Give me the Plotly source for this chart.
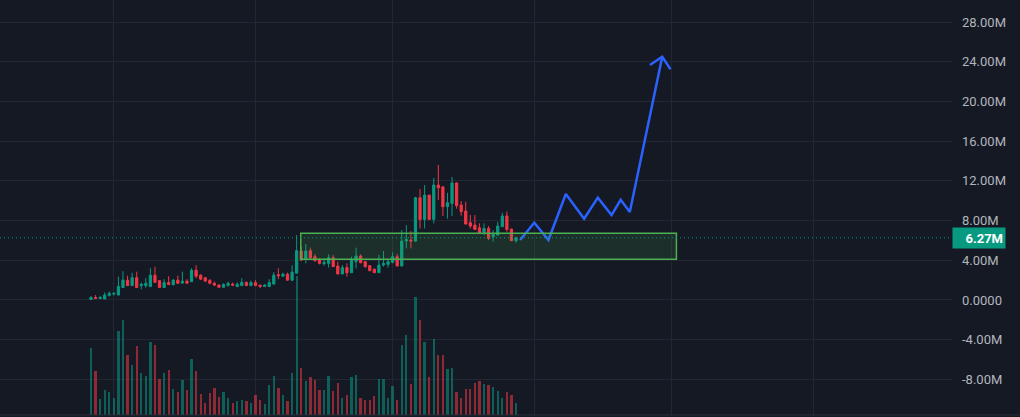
import plotly.graph_objects as go
import pandas as pd

# ---------------- data (prices in millions) ----------------
start_date = "2023-02-24"
n_bars = 94

open_m = [0.05, 0.25, 0.15, 0.10, 0.47, 0.60, 0.50, 1.25, 2.00, 1.45,
          2.25, 1.45, 1.45, 1.35, 2.50, 1.95, 1.25, 1.75, 1.55, 2.00,
          1.70, 1.90, 1.85, 3.00, 2.50, 2.25, 1.98, 1.68, 1.50, 1.28,
          1.48, 1.60, 1.35, 1.45, 1.78, 1.45, 1.75, 1.50, 1.35, 1.35,
          1.60, 2.55, 2.40, 2.60, 2.00, 2.70, 4.93, 4.10, 4.97, 4.36,
          4.09, 3.66, 3.69, 4.26, 3.42, 2.62, 3.26, 2.75, 3.86, 4.43,
          3.86, 3.46, 3.09, 2.75, 3.52, 3.59, 3.79, 4.36, 3.42, 5.94,
          6.04, 5.94, 10.30, 8.12, 10.57, 8.12, 11.58, 11.40, 9.40, 9.73,
          11.80, 9.56, 8.96, 7.79, 7.55, 7.28, 6.78, 7.21, 6.38, 6.54,
          7.38, 8.46, 7.15, 5.97]
high_m = [0.40, 0.50, 0.40, 0.75, 0.85, 0.78, 2.35, 2.90, 2.45, 2.75,
          2.85, 1.75, 2.20, 3.20, 3.35, 1.95, 2.10, 2.40, 2.10, 2.45,
          2.85, 2.10, 3.20, 3.50, 2.60, 2.25, 2.10, 1.85, 1.58, 1.68,
          1.85, 1.75, 1.78, 2.20, 1.85, 1.95, 2.00, 1.50, 1.60, 2.10,
          2.80, 3.20, 2.75, 2.75, 3.50, 6.55, 5.37, 5.64, 5.27, 4.63,
          4.19, 4.19, 4.60, 4.53, 3.86, 3.52, 3.69, 4.36, 5.27, 4.60,
          3.93, 3.52, 3.19, 4.53, 4.93, 4.03, 4.80, 4.63, 7.05, 7.55,
          6.95, 10.40, 11.17, 11.58, 10.57, 12.30, 13.60, 11.40, 10.80, 12.40,
          11.80, 9.97, 9.90, 8.56, 8.56, 7.72, 7.72, 7.45, 7.05, 7.88,
          8.80, 8.90, 7.15, 6.38]
low_m = [0.00, 0.10, 0.12, 0.10, 0.35, 0.45, 0.50, 1.25, 1.45, 1.45,
         1.25, 1.07, 1.25, 1.35, 1.78, 1.25, 1.25, 1.55, 1.45, 1.68,
         1.68, 1.60, 1.85, 2.20, 2.00, 1.85, 1.60, 1.40, 1.28, 1.28,
         1.35, 1.40, 1.35, 1.45, 1.45, 1.45, 1.40, 1.20, 1.35, 1.35,
         1.60, 2.10, 2.35, 1.95, 1.90, 2.70, 3.93, 3.70, 4.10, 3.86,
         3.59, 3.46, 3.26, 3.36, 2.62, 2.62, 2.35, 2.75, 3.19, 3.69,
         3.26, 2.95, 2.75, 2.75, 3.36, 3.26, 3.69, 3.42, 3.42, 5.20,
         5.20, 5.87, 7.21, 7.21, 8.05, 7.72, 10.07, 8.46, 8.20, 8.46,
         9.20, 8.50, 7.65, 7.21, 7.11, 6.78, 6.54, 6.04, 5.87, 6.54,
         7.38, 6.88, 5.97, 5.77]
close_m = [0.25, 0.15, 0.25, 0.50, 0.67, 0.67, 1.35, 2.00, 1.45, 2.25,
           1.25, 1.58, 1.68, 2.50, 1.78, 1.25, 1.75, 1.55, 2.00, 1.68,
           1.90, 1.70, 3.00, 2.40, 2.10, 1.90, 1.68, 1.50, 1.28, 1.55,
           1.68, 1.50, 1.58, 1.78, 1.45, 1.75, 1.45, 1.35, 1.50, 1.75,
           2.50, 2.45, 2.60, 2.00, 2.80, 4.97, 4.03, 4.93, 4.26, 3.96,
           3.69, 3.79, 4.26, 3.36, 2.62, 3.26, 2.75, 4.03, 4.43, 3.76,
           3.36, 2.95, 2.75, 3.52, 3.69, 3.86, 4.36, 3.42, 5.94, 6.10,
           5.94, 10.30, 8.12, 10.57, 8.12, 11.58, 11.30, 9.40, 9.80, 11.80,
           9.50, 8.90, 7.65, 7.45, 7.11, 6.78, 7.21, 6.20, 6.60, 7.45,
           8.46, 7.11, 5.97, 6.27]
volume_k = [67, 44, 16, 25, 23, 17, 84, 95, 60, 50,
            69, 42, 39, 73, 70, 36, 42, 45, 26, 23,
            35, 25, 56, 44, 21, 12, 22, 27, 18, 23,
            17, 12, 14, 15, 14, 12, 20, 15, 11, 30,
            39, 27, 20, 14, 42, 139, 47, 34, 38, 35,
            25, 25, 39, 24, 32, 17, 20, 38, 40, 17,
            15, 15, 19, 36, 36, 17, 29, 15, 70, 80,
            31, 118, 95, 73, 38, 76, 60, 60, 46, 47,
            23, 17, 26, 26, 32, 34, 31, 30, 28, 24,
            17, 23, 20, 12]

last_price = 6.27
last_price_label = "6.27M"

# drawn demand zone (rectangle)
zone_x = ["2023-04-10 21:36", "2023-07-02 02:24"]
zone_y = [4.10, 6.72]

# projected path (blue zig-zag with arrow head)
path_x = ["2023-05-28 21:36", "2023-06-01 00:00", "2023-06-04 02:24", "2023-06-07 21:36",
          "2023-06-11 21:36", "2023-06-14 21:36", "2023-06-17 21:36", "2023-06-19 21:36",
          "2023-06-21 21:36", "2023-06-29 00:00"]
path_y = [6.05, 7.79, 6.05, 10.68, 8.19, 10.31, 8.56, 10.10, 8.87, 24.52]
arrow_x = ["2023-06-26 07:12", "2023-06-29 00:00", "2023-06-30 19:12"]
arrow_y = [23.68, 24.52, 23.25]

tick_vals = [-8, -4, 0, 4, 8, 12, 16, 20, 24, 28]
tick_text = ["-8.00M", "-4.00M", "0.0000", "4.00M", "8.00M", "12.00M",
             "16.00M", "20.00M", "24.00M", "28.00M"]

# ---------------- styling ----------------
BG = "#151924"
GRID = "#232733"
UP = "#089981"
DOWN = "#f23645"
VOL_UP = "rgba(8,153,129,0.55)"
VOL_DOWN = "rgba(242,54,69,0.55)"
TEXT = "#b2b5be"

dates = pd.date_range(start_date, periods=n_bars, freq="D")
vol_colors = [VOL_UP if c >= o else VOL_DOWN for o, c in zip(open_m, close_m)]

fig = go.Figure()

fig.add_trace(go.Candlestick(
    x=dates, open=open_m, high=high_m, low=low_m, close=close_m,
    increasing=dict(line=dict(color=UP, width=1), fillcolor=UP),
    decreasing=dict(line=dict(color=DOWN, width=1), fillcolor=DOWN),
    whiskerwidth=0, showlegend=False, hoverinfo="skip",
))

fig.add_trace(go.Bar(
    x=dates, y=volume_k, marker=dict(color=vol_colors, line=dict(width=0)),
    width=0.5 * 86400000, yaxis="y2", showlegend=False, hoverinfo="skip",
))

path_all_x = path_x + [None] + arrow_x
path_all_y = path_y + [None] + arrow_y
fig.add_trace(go.Scatter(
    x=path_all_x, y=path_all_y, mode="lines",
    line=dict(color="#2962ff", width=2.5), showlegend=False, hoverinfo="skip",
    connectgaps=False,
))

t0 = pd.Timestamp(start_date)
x_left = t0 - pd.Timedelta(days=19.91)
x_right = t0 + pd.Timedelta(days=188.4)

fig.update_layout(
    width=1020, height=417,
    margin=dict(l=0, r=68, t=0, b=2),
    paper_bgcolor=BG, plot_bgcolor=BG,
    font=dict(family="Roboto", size=13, color=TEXT),
    xaxis=dict(
        type="date", range=[x_left, x_right], showticklabels=False,
        showgrid=True, gridcolor=GRID, gridwidth=1,
        dtick="M1", tick0="2023-03-01", zeroline=False,
        rangeslider=dict(visible=False), fixedrange=True,
    ),
    yaxis=dict(
        side="right", range=[-11.59, 30.23], tickvals=tick_vals, ticktext=tick_text,
        showgrid=True, gridcolor=GRID, gridwidth=1, zeroline=False,
        ticks="", ticklabelstandoff=9, tickfont=dict(color=TEXT, size=13),
    ),
    yaxis2=dict(
        overlaying="y", range=[0, 415], showgrid=False, showticklabels=False,
        zeroline=False, visible=False,
    ),
    shapes=[
        dict(type="rect", xref="x", yref="y",
             x0=zone_x[0], x1=zone_x[1], y0=zone_y[0], y1=zone_y[1],
             line=dict(color="#4caf50", width=1.5),
             fillcolor="rgba(76,175,80,0.15)", layer="above"),
        dict(type="line", xref="paper", yref="y", x0=0, x1=1,
             y0=last_price, y1=last_price,
             line=dict(color=UP, width=1, dash="1px,3px"), layer="above"),
        dict(type="line", xref="paper", yref="paper", x0=0, x1=1.0715,
             y0=0, y1=0, line=dict(color="#2a2e39", width=1)),
    ],
    annotations=[
        dict(xref="paper", yref="y", x=1, y=last_price, xanchor="left",
             yanchor="middle", text="<b>" + last_price_label + "</b>",
             showarrow=False, bgcolor=UP, width=48, height=16, borderpad=2,
             align="right", font=dict(color="#ffffff", size=13, family="Roboto")),
    ],
    bargap=0,
)

fig.write_html("out.html")
